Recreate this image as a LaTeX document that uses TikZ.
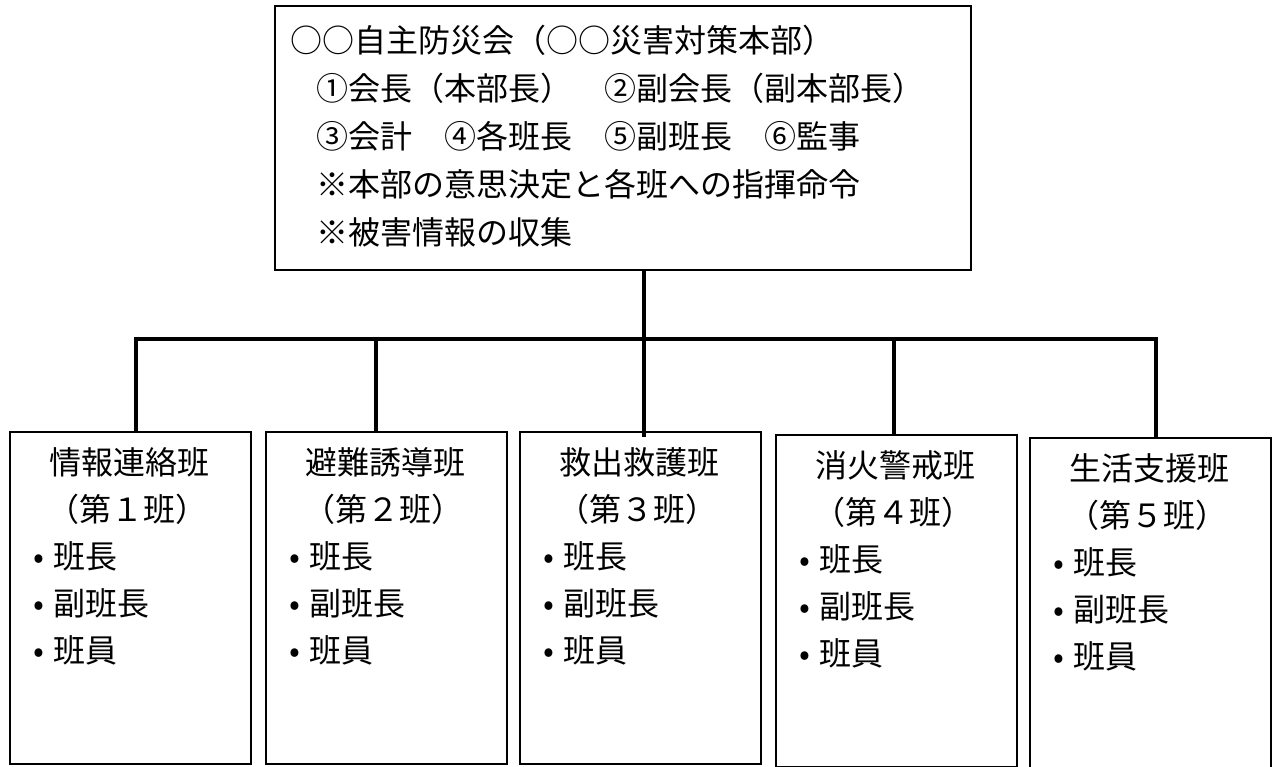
\documentclass[tikz,border=0pt]{standalone}
\usepackage{fontspec}
\setmainfont{Noto Sans CJK JP}
\begin{document}
\begin{tikzpicture}[x=1pt,y=-1pt,
  frame/.style={draw=black, line width=2pt, anchor=north west, inner sep=0pt, rectangle},
  conn/.style={draw=black, line width=3.3pt},
  txt/.style={inner sep=0pt, font=\fontsize{32}{38}\selectfont},
  lt/.style={txt, anchor=west}]
\useasboundingbox (0,0) rectangle (1274,767);

% top box
\node[frame, minimum width=696pt, minimum height=264pt] (top) at (274,5) {};
\node[lt] (t1) at (290,40) {○○自主防災会（○○災害対策本部）};
\node[lt] (t2) at (316,88) {①会長（本部長）　②副会長（副本部長）};
\node[lt] (t3) at (316,136) {③会計　④各班長　⑤副班長　⑥監事};
\node[lt] (t4) at (316,184) {※本部の意思決定と各班への指揮命令};
\node[lt] (t5) at (316,232) {※被害情報の収集};

% group boxes
\foreach \i/\L/\dy/\nm/\num in {1/9/0/情報連絡班/１, 2/265/0/避難誘導班/２, 3/519/0/救出救護班/３, 4/775/3/消火警戒班/４, 5/1029/6/生活支援班/５}{
  \node[frame, minimum width=241pt, minimum height=332pt] (b\i) at (\L,431+\dy) {};
  \node[txt] (h\i) at (\L+120.5,462+\dy) {\nm};
  \node[txt] (n\i) at (\L+118,509+\dy) {（第\num 班）};
  \node[lt] (p\i) at (\L+24,556+\dy) {•\kern9pt 班長};
  \node[lt] (q\i) at (\L+24,603+\dy) {•\kern9pt 副班長};
  \node[lt] (r\i) at (\L+24,650+\dy) {•\kern9pt 班員};
}

% connectors
\coordinate (hub) at (644,339);
\coordinate (d1) at (136,339);
\coordinate (d2) at (376,339);
\coordinate (d4) at (894,339);
\coordinate (d5) at (1156,339);
\draw[conn] (top.south -| hub) -- (hub);
\draw[conn] (d1 |- b1.north) -- (d1) -- (d5) -- (d5 |- b5.north);
\draw[conn] (d2) -- (d2 |- b2.north);
\draw[conn] (hub) -- ([yshift=-6pt]hub |- b3.north);
\draw[conn] (d4) -- (d4 |- b4.north);
\end{tikzpicture}
\end{document}
